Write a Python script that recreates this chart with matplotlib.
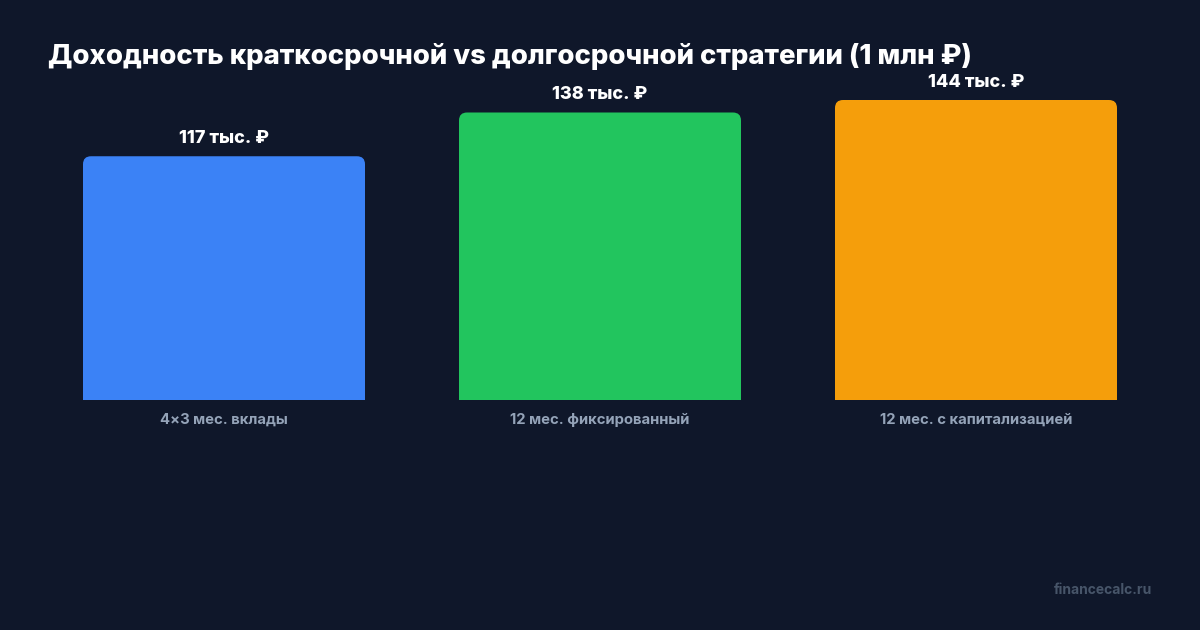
import matplotlib
matplotlib.use("Agg")
import matplotlib.pyplot as plt
from matplotlib.patches import FancyBboxPatch

categories = ['4×3 мес. вклады', '12 мес. фиксированный', '12 мес. с капитализацией']
values = [117, 138, 144]
value_labels = ['117 тыс. ₽', '138 тыс. ₽', '144 тыс. ₽']
colors = ['#3b82f6', '#22c55e', '#f59e0b']
title = 'Доходность краткосрочной vs долгосрочной стратегии (1 млн ₽)'

plt.rcParams['font.family'] = ['Inter', 'DejaVu Sans']
bg = '#0f172a'

W, H = 1200, 630
fig = plt.figure(figsize=(W / 100, H / 100), dpi=100, facecolor=bg)

# axes placed in pixels: x from 36 to 1164, y from 400 (zero) to 100 (max)
ax_left, ax_right, ax_bottom, ax_top = 36, 1164, 400, 100
ax = fig.add_axes([ax_left / W, (H - ax_bottom) / H, (ax_right - ax_left) / W, (ax_bottom - ax_top) / H])
ax.set_facecolor(bg)
ax.set_xlim(-0.5, len(values) - 0.5)
ax.set_ylim(0, max(values))
ax.axis('off')

px_x = (ax_right - ax_left) / len(values)
px_y = (ax_bottom - ax_top) / max(values)
bar_w = 0.75
radius = 8 / px_x

for i, (v, c) in enumerate(zip(values, colors)):
    box = FancyBboxPatch((i - bar_w / 2, -20), bar_w, v + 20,
                         boxstyle=f'round,pad=0,rounding_size={radius}',
                         mutation_aspect=px_x / px_y,
                         facecolor=c, edgecolor='none')
    ax.add_patch(box)
    ax.text(i, v + 18 / px_y, value_labels[i], ha='center', va='center',
            color='white', fontsize=13, fontweight='heavy', clip_on=False)
    ax.text(i, -20 / px_y, categories[i], ha='center', va='center',
            color='#94a3b8', fontsize=10.7, fontweight='bold', clip_on=False)

fig.text(48 / W, 1 - 56 / H, title, ha='left', va='center', color='white',
         fontsize=19.8, fontweight='heavy')
fig.text(1152 / W, 1 - 590 / H, 'financecalc.ru', ha='right', va='center',
         color='#475569', fontsize=10, fontweight='bold')

fig.savefig('out.png', dpi=100, facecolor=bg)
